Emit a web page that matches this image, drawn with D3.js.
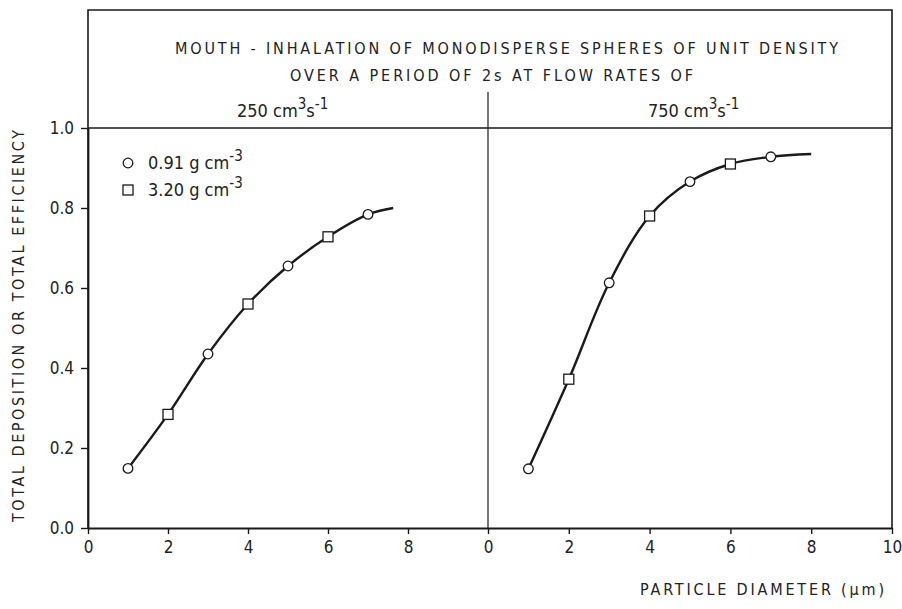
<!DOCTYPE html>
<html><head><meta charset="utf-8">
<script src="https://cdn.jsdelivr.net/npm/d3@7"></script>
<style>
body{margin:0;background:#fff;}
svg text{font-family:"DejaVu Sans Condensed","Liberation Sans Narrow",sans-serif;fill:#222;}
</style></head>
<body><svg id="c" width="902" height="609"></svg>
<script>
// ---- data ----
const diameters = [1, 2, 3, 4, 5, 6, 7];
const markerTypes = ["circle", "square", "circle", "square", "circle", "square", "circle"];
const eff250 = [0.149, 0.284, 0.435, 0.560, 0.655, 0.728, 0.784];
const eff750 = [0.148, 0.372, 0.613, 0.780, 0.866, 0.910, 0.928];
const curveEnd250 = [7.63, 0.800];
const curveEnd750 = [8.0, 0.935];
const yTicks = [0.0, 0.2, 0.4, 0.6, 0.8, 1.0];
const xTicksLeft = [0, 2, 4, 6, 8];
const xTicksRight = [0, 2, 4, 6, 8, 10];
const legendItems = [["circle", "0.91 g cm", "-3"], ["square", "3.20 g cm", "-3"]];

const svg = d3.select("#c");
const y = d3.scaleLinear().domain([0, 1]).range([528, 128]);
const xL = d3.scaleLinear().domain([0, 10]).range([88, 488]);
const xR = d3.scaleLinear().domain([0, 10]).range([488, 892]);
const ink = "#1a1a1a";
const FONT = "'DejaVu Sans Condensed','Liberation Sans Narrow',sans-serif";

// frame
svg.append("path").attr("d", "M88,528 V10 H892 V528").attr("fill", "none").attr("stroke", ink).attr("stroke-width", 1.6);
svg.append("line").attr("x1", 88).attr("x2", 892).attr("y1", y(1)).attr("y2", y(1)).attr("stroke", ink).attr("stroke-width", 1.6);
svg.append("line").attr("x1", 488).attr("x2", 488).attr("y1", 92).attr("y2", 528).attr("stroke", ink).attr("stroke-width", 1.2);

// axes
function styleAxis(g) {
  g.selectAll("path.domain").attr("stroke", ink).attr("stroke-width", 1.8);
  g.selectAll(".tick line").attr("stroke", ink).attr("stroke-width", 1.4);
  g.selectAll(".tick text").attr("font-size", 17).attr("fill", "#222").attr("font-family", FONT);
}
svg.append("g").attr("transform", "translate(0,528)")
  .call(d3.axisBottom(xL).tickValues(xTicksLeft).tickSize(6).tickPadding(7).tickSizeOuter(0))
  .call(styleAxis);
svg.append("g").attr("transform", "translate(0,528)")
  .call(d3.axisBottom(xR).tickValues(xTicksRight).tickSize(6).tickPadding(7).tickSizeOuter(0))
  .call(styleAxis);
svg.append("g").attr("transform", "translate(88,0)")
  .call(d3.axisLeft(y).tickValues(yTicks).tickFormat(d3.format(".1f")).tickSize(7).tickPadding(7).tickSizeOuter(0))
  .call(styleAxis);

// axis titles
svg.append("text").attr("transform", "translate(24,326) rotate(-90)").attr("text-anchor", "middle")
  .attr("font-size", 16).attr("textLength", 392).attr("lengthAdjust", "spacing")
  .text("TOTAL DEPOSITION OR TOTAL EFFICIENCY");
svg.append("text").attr("x", 640).attr("y", 595).attr("font-size", 16)
  .attr("textLength", 244).attr("lengthAdjust", "spacing").text("PARTICLE DIAMETER (\u03bcm)");

// title
svg.append("text").attr("x", 175).attr("y", 54).attr("font-size", 16)
  .attr("textLength", 663).attr("lengthAdjust", "spacing")
  .text("MOUTH - INHALATION OF MONODISPERSE SPHERES OF UNIT DENSITY");
svg.append("text").attr("x", 290).attr("y", 81).attr("font-size", 16)
  .attr("textLength", 403).attr("lengthAdjust", "spacing")
  .text("OVER A PERIOD OF 2s AT FLOW RATES OF");

function flowLabel(xpos, num) {
  const t = svg.append("text").attr("x", xpos).attr("y", 117).attr("font-size", 18);
  t.append("tspan").text(num + " cm");
  t.append("tspan").attr("dy", -8).attr("font-size", 15).text("3");
  t.append("tspan").attr("dy", 8).text("s");
  t.append("tspan").attr("dy", -8).attr("font-size", 15).text("-1");
}
flowLabel(237, "250");
flowLabel(648, "750");

// markers
function drawMarker(g, type, cx, cy) {
  if (type === "circle") {
    g.append("circle").attr("cx", cx).attr("cy", cy).attr("r", 4.8)
      .attr("fill", "#fff").attr("stroke", ink).attr("stroke-width", 1.3);
  } else {
    g.append("rect").attr("x", cx - 5).attr("y", cy - 5).attr("width", 10).attr("height", 10)
      .attr("fill", "#fff").attr("stroke", ink).attr("stroke-width", 1.3);
  }
}

function drawPanel(x, vals, end) {
  const pts = diameters.map((d, i) => [d, vals[i]]).concat([end]);
  const line = d3.line().x(d => x(d[0])).y(d => y(d[1])).curve(d3.curveCatmullRom.alpha(0.5));
  svg.append("path").attr("d", line(pts)).attr("fill", "none").attr("stroke", ink).attr("stroke-width", 2.4);
  const g = svg.append("g");
  diameters.forEach((d, i) => drawMarker(g, markerTypes[i], x(d), y(vals[i])));
}
drawPanel(xL, eff250, curveEnd250);
drawPanel(xR, eff750, curveEnd750);

// legend
const lg = svg.append("g");
legendItems.forEach((it, i) => {
  const cy = 163 + i * 27;
  drawMarker(lg, it[0], 128, cy);
  const t = svg.append("text").attr("x", 148).attr("y", cy + 6).attr("font-size", 18);
  t.append("tspan").text(it[1]);
  t.append("tspan").attr("dy", -8).attr("font-size", 15).text(it[2]);
});
</script></body></html>
